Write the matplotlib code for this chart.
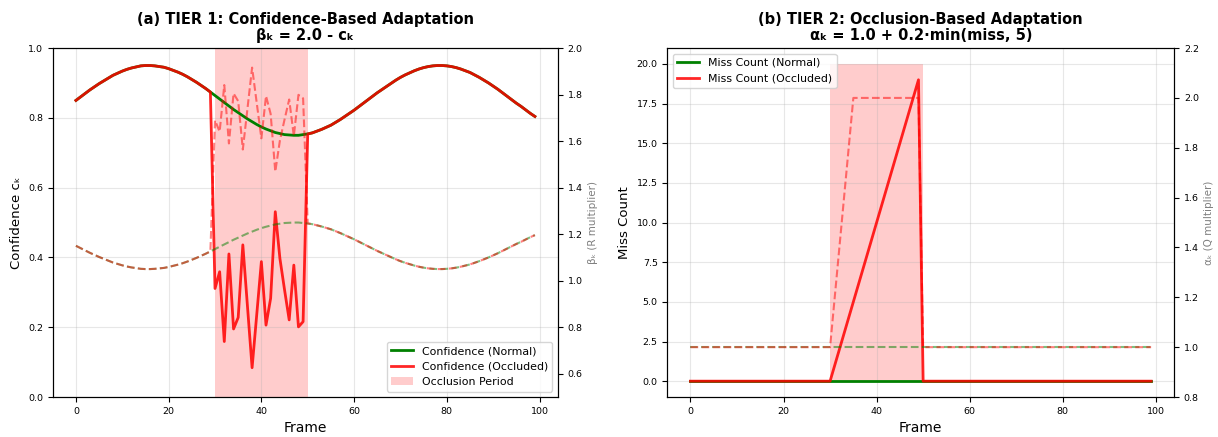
import numpy as np
import matplotlib
matplotlib.use('Agg')
import matplotlib.pyplot as plt

# frames and readings
frames = np.arange(100)

conf_normal = [
    0.850, 0.860, 0.870, 0.880, 0.889, 0.898, 0.906, 0.914, 0.922, 0.928,
    0.934, 0.939, 0.943, 0.946, 0.949, 0.950, 0.950, 0.949, 0.947, 0.945,
    0.941, 0.936, 0.931, 0.925, 0.918, 0.910, 0.902, 0.893, 0.884, 0.874,
    0.864, 0.854, 0.844, 0.834, 0.824, 0.815, 0.806, 0.797, 0.789, 0.781,
    0.774, 0.768, 0.763, 0.758, 0.755, 0.752, 0.751, 0.750, 0.750, 0.752,
    0.754, 0.757, 0.762, 0.767, 0.773, 0.779, 0.787, 0.795, 0.804, 0.813,
    0.822, 0.832, 0.842, 0.852, 0.862, 0.872, 0.881, 0.890, 0.899, 0.908,
    0.916, 0.923, 0.929, 0.935, 0.940, 0.944, 0.947, 0.949, 0.950, 0.950,
    0.949, 0.947, 0.944, 0.940, 0.935, 0.930, 0.923, 0.916, 0.908, 0.900,
    0.891, 0.882, 0.872, 0.862, 0.852, 0.842, 0.833, 0.823, 0.813, 0.804,
]

# occlusion window (frames 30..49)
occ_start, occ_end = 30, 50
conf_occ_window = [0.311, 0.359, 0.159, 0.410, 0.195, 0.228, 0.436, 0.260, 0.084, 0.236,
                   0.388, 0.206, 0.283, 0.531, 0.397, 0.307, 0.221, 0.378, 0.201, 0.216]
miss_occ_window = [0, 1, 2, 3, 4, 5, 6, 7, 8, 9,
                   10, 11, 12, 13, 14, 15, 16, 17, 18, 19]
span_top = 20

conf_normal = np.array(conf_normal)
conf_occ = conf_normal.copy()
conf_occ[occ_start:occ_end] = conf_occ_window

miss_normal = np.zeros(100)
miss_occ = np.zeros(100)
miss_occ[occ_start:occ_end] = miss_occ_window

beta_normal = 2.0 - conf_normal
beta_occ = 2.0 - conf_occ
alpha_normal = 1.0 + 0.2 * np.minimum(miss_normal, 5)
alpha_occ = 1.0 + 0.2 * np.minimum(miss_occ, 5)

TICK = 6.8
XLAB = 10
YLAB = 9.5
TITLE = 10.5
LEG = 7.9

fig = plt.figure(figsize=(12.18, 4.37), dpi=100)
ax1 = fig.add_axes([0.0435, 0.0915, 0.4145, 0.7985])
ax2 = fig.add_axes([0.548, 0.0915, 0.416, 0.7985])

# ---- (a) tier 1
ax1.plot(frames, conf_normal, color='green', lw=2, label='Confidence (Normal)')
ax1.plot(frames, conf_occ, color='red', lw=2, alpha=0.85, label='Confidence (Occluded)')
ax1.axvspan(occ_start, occ_end, color='red', alpha=0.2, lw=0, label='Occlusion Period')
ax1.set_ylim(0, 1)
ax1.set_xlabel('Frame', fontsize=XLAB)
ax1.set_ylabel('Confidence cₖ', fontsize=YLAB)
ax1.set_title('(a) TIER 1: Confidence-Based Adaptation\nβₖ = 2.0 - cₖ',
              fontsize=TITLE, fontweight='bold', linespacing=1.1)
ax1.grid(True, alpha=0.3)
ax1.tick_params(labelsize=TICK)
ax1.legend(loc='lower right', fontsize=LEG)

tw1 = ax1.twinx()
tw1.plot(frames, beta_normal, color='green', ls='--', lw=1.5, alpha=0.5)
tw1.plot(frames, beta_occ, color='red', ls='--', lw=1.5, alpha=0.5)
tw1.set_ylim(0.5, 2.0)
tw1.set_ylabel('βₖ (R multiplier)', fontsize=7.5, color='gray')
tw1.tick_params(labelsize=TICK)

# ---- (b) tier 2
ax2.plot(frames, miss_normal, color='green', lw=2, label='Miss Count (Normal)')
ax2.plot(frames, miss_occ, color='red', lw=2, alpha=0.85, label='Miss Count (Occluded)')
ax2.fill_between([occ_start, occ_end], 0, span_top, color='red', alpha=0.2, lw=0)
ax2.set_xlabel('Frame', fontsize=XLAB)
ax2.set_ylabel('Miss Count', fontsize=YLAB)
ax2.set_title('(b) TIER 2: Occlusion-Based Adaptation\nαₖ = 1.0 + 0.2·min(miss, 5)',
              fontsize=TITLE, fontweight='bold', linespacing=1.1)
ax2.grid(True, alpha=0.3)
ax2.tick_params(labelsize=TICK)
ax2.yaxis.set_major_formatter(matplotlib.ticker.FormatStrFormatter('%.1f'))
ax2.legend(loc='upper left', fontsize=LEG)

tw2 = ax2.twinx()
tw2.plot(frames, alpha_normal, color='green', ls='--', lw=1.5, alpha=0.5)
tw2.plot(frames, alpha_occ, color='red', ls='--', lw=1.5, alpha=0.5)
tw2.set_ylim(0.8, 2.2)
tw2.set_ylabel('αₖ (Q multiplier)', fontsize=7.5, color='gray')
tw2.tick_params(labelsize=TICK)

fig.savefig('out.png', dpi=100)
